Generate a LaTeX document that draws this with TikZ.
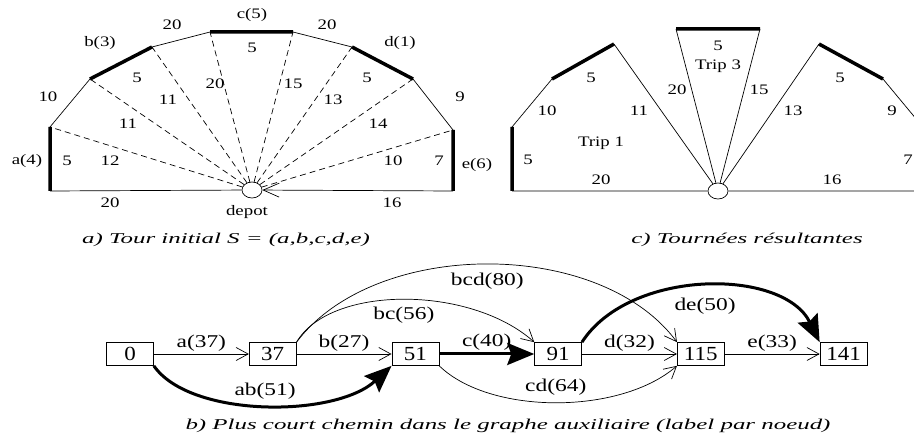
\documentclass[tikz,border=0pt]{standalone}
\usepackage{fontspec}
\setmainfont{Liberation Serif}[FakeStretch=1.3]
\newfontfamily\boxfont{Liberation Serif}[FakeStretch=1.15]
\newfontfamily\capfont{Liberation Serif}[FakeStretch=1.66]
\usetikzlibrary{shapes.geometric, arrows.meta, positioning}

\begin{document}
\begin{tikzpicture}[x=1pt, y=-1pt,
        lbl/.style={font=\fontsize{14.5}{16}\selectfont, inner sep=1pt},
        elbl/.style={font=\fontsize{18}{20}\selectfont, inner sep=1pt},
        capt/.style={font=\capfont\itshape\fontsize{15}{17}\selectfont},
        leg/.style={line width=0.7pt},
        demand/.style={line width=3.5pt},
        radial/.style={line width=0.7pt, dash pattern=on 6pt off 4pt},
        depotnode/.style={ellipse, draw, line width=0.7pt, minimum width=20pt, minimum height=16pt, inner sep=0pt},
        stage/.style={rectangle, draw, line width=0.7pt, minimum width=47pt, minimum height=23pt, inner sep=0pt, font=\boxfont\fontsize{20}{22}\selectfont},
        arc/.style={-{Straight Barb[length=12pt, width=13pt]}, line width=0.7pt},
        best/.style={-{Stealth[length=27pt, width=22pt, inset=4pt]}, line width=3pt},
        node distance=95pt
    ]
    \clip (0,0) rectangle (914,438);

    % a) initial tour
    \node[depotnode] (dep) at (252,190) {};
    \coordinate (aT) at (50,127);  \coordinate (aB) at (50,191);
    \coordinate (b1) at (90,79);   \coordinate (b2) at (152,47);
    \coordinate (c1) at (210,32);  \coordinate (c2) at (293,32);
    \coordinate (d1) at (352,47);  \coordinate (d2) at (413,79);
    \coordinate (e1) at (453,130); \coordinate (e2) at (453,191);

    \draw[demand] (aT) -- (aB) (b1) -- (b2) (c1) -- (c2) (d1) -- (d2) (e1) -- (e2);
    \draw[leg] (aT) -- (b1) (b2) -- (c1) (c2) -- (d1) (d2) -- (e1);
    \draw[leg] (aB) -- (dep);
    \draw[leg, -{Straight Barb[length=16pt, width=14pt]}] (e2) -- (dep);
    \foreach \v in {aT,b1,b2,c1,c2,d1,d2,e1}
        \draw[radial] (dep) -- (\v);

    \foreach \p/\t [count=\i] in {{27,161}/a(4), {100,43}/b(3), {252,15}/c(5), {400,43}/d(1), {477,165}/e(6),
            {48,97}/10, {172,25}/20, {327,25}/20, {460,97}/9,
            {67,161}/5, {110,161}/12, {128,124}/11, {168,100}/11, {137,78}/5, {215,84}/20,
            {252,48}/5, {293,84}/15, {333,100}/13, {367,78}/5, {378,124}/14, {393,161}/10,
            {439,161}/7, {110,203}/20, {392,203}/16, {247,212}/depot}
        \node[lbl] (la\i) at (\p) {\t};
    \node[capt] (capa) at (226,240) {a) Tour initial S = (a,b,c,d,e)};

    % c) resulting trips
    \node[depotnode] (dep2) at (718,191) {};
    \coordinate (p0) at (512,191); \coordinate (p1) at (512,127);
    \coordinate (p2) at (552,79);  \coordinate (p3) at (614,44);
    \coordinate (q1) at (676,29);  \coordinate (q2) at (760,29);
    \coordinate (r1) at (819,44);  \coordinate (r2) at (883,79);
    \coordinate (r3) at (922,126); \coordinate (r4) at (922,191);

    \draw[demand] (p0) -- (p1) (p2) -- (p3) (q1) -- (q2) (r1) -- (r2) (r3) -- (r4);
    \draw[leg] (p1) -- (p2) (r2) -- (r3);
    \draw[leg] (p0) -- (dep2) (dep2) -- (p3);
    \draw[leg] (q1) -- (dep2) -- (q2);
    \draw[leg] (dep2) -- (r1) (dep2) -- (r4);

    \foreach \p/\t [count=\i] in {{547,111}/10, {591,78}/5, {639,111}/11, {601,143}/Trip 1,
            {528,160}/5, {601,180}/20, {718,46}/5, {718,66}/Trip 3, {677,90}/20, {759,90}/15,
            {840,78}/5, {793,111}/13, {892,111}/9, {908,160}/7, {832,180}/16}
        \node[lbl] (lc\i) at (\p) {\t};
    \node[capt] (capc) at (747,240) {c) Tournées résultantes};

    % b) shortest path in the auxiliary graph
    \node[stage] (s0) at (130,354) {0};
    \node[stage, right=of s0] (s37) {37};
    \node[stage, right=of s37] (s51) {51};
    \node[stage, right=of s51] (s91) {91};
    \node[stage, right=of s91] (s115) {115};
    \node[stage, right=of s115] (s141) {141};

    \draw[arc] (s0) -- node[elbl, midway, above=1pt] (ea) {a(37)} (s37);
    \draw[arc] (s37) -- node[elbl, midway, above=1pt] (eb) {b(27)} (s51);
    \draw[best] (s51) -- node[elbl, midway, above=1pt] (ec) {c(40)} (s91);
    \draw[arc] (s91) -- node[elbl, midway, above=1pt] (ed) {d(32)} (s115);
    \draw[arc] (s115) -- node[elbl, midway, above=1pt] (ee) {e(33)} (s141);

    \draw[best] (s0.south east) .. controls (190,418) and (335,418) .. (s51.south west)
        node[elbl, pos=0.5, above=3pt] (eab) {ab(51)};
    \draw[arc] (s37.north east) .. controls (330,285) and (470,285) .. (s91.north west)
        node[elbl, pos=0.5, below=6pt] (ebc) {bc(56)};
    \draw[arc] (s37.north east) .. controls (375,238) and (600,238) .. (s115.north west)
        node[elbl, pos=0.5, below=8pt] (ebcd) {bcd(80)};
    \draw[arc] (s51.south east) .. controls (490,415) and (620,415) .. (s115.south west)
        node[elbl, pos=0.5, above=6pt] (ecd) {cd(64)};
    \draw[best] (s91.north east) .. controls (630,268) and (783,268) .. (s141.north west)
        node[elbl, pos=0.5, below=9pt] (ede) {de(50)};

    \node[capt] (capb) at (508,426) {b) Plus court chemin dans le graphe auxiliaire (label par noeud)};
\end{tikzpicture}
\end{document}
